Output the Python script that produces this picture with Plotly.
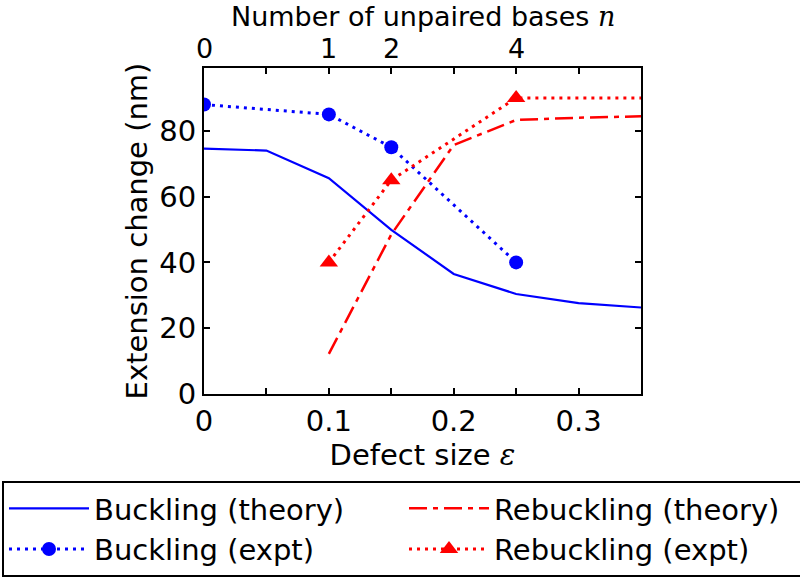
import plotly.graph_objects as go

# Data
eps_theory = [0.0, 0.05, 0.10, 0.15, 0.20, 0.25, 0.30, 0.35]
buck_theory = [74.6, 74.0, 65.6, 49.9, 36.5, 30.4, 27.6, 26.3]

eps_rebuck_theory = [0.10, 0.15, 0.20, 0.25, 0.30, 0.35]
rebuck_theory = [12.2, 48.5, 75.7, 83.3, 84.0, 84.4]

eps_buck_expt = [0.0, 0.10, 0.15, 0.25]
buck_expt = [88.0, 85.0, 75.0, 40.0]

eps_rebuck_expt = [0.10, 0.15, 0.25, 0.40]
rebuck_expt = [40.0, 65.0, 90.0, 90.0]

bottom_tickvals = [0.0, 0.05, 0.10, 0.15, 0.20, 0.25, 0.30, 0.35]
bottom_ticktext = ["0", "", "0.1", "", "0.2", "", "0.3", ""]
top_tickvals = [0.0, 0.10, 0.15, 0.25]
top_ticktext = ["0", "1", "2", "4"]
y_tickvals = [0, 20, 40, 60, 80]

top_title = "Number of unpaired bases <span style=\"font-family:'DejaVu Serif'\"><i>n</i></span>"

FONT = "DejaVu Sans"
BLUE = "#0000ff"
RED = "#ff0000"
FS = 29
FS_TOP = 27

W, H = 800, 578
X0, X1 = 204, 641   # plot area, px
Y0, Y1 = 68, 394

fig = go.Figure()
fig.add_trace(go.Scatter(x=eps_theory, y=buck_theory, mode="lines",
                         name="Buckling (theory)",
                         line=dict(color=BLUE, width=2.2)))
fig.add_trace(go.Scatter(x=eps_rebuck_theory, y=rebuck_theory, mode="lines",
                         name="Rebuckling (theory)",
                         line=dict(color=RED, width=2.5, dash="18px,6px,5px,6px")))
fig.add_trace(go.Scatter(x=eps_buck_expt, y=buck_expt, mode="lines+markers",
                         name="Buckling (expt)",
                         line=dict(color=BLUE, width=3, dash="3px,5px"),
                         marker=dict(symbol="circle", size=14, color=BLUE,
                                     line=dict(width=0))))
fig.add_trace(go.Scatter(x=eps_rebuck_expt, y=rebuck_expt, mode="lines+markers",
                         name="Rebuckling (expt)",
                         line=dict(color=RED, width=3, dash="3px,5px"),
                         marker=dict(symbol="triangle-up", size=16, color=RED,
                                     line=dict(width=0))))
# invisible trace on top axis to activate it
fig.add_trace(go.Scatter(x=[0, 0.35], y=[None, None], xaxis="x2", showlegend=False,
                         hoverinfo="skip"))

xdom = [X0 / W, X1 / W]
ydom = [(H - Y1) / H, (H - Y0) / H]

# top-axis tick labels placed at their data x positions through the x2 axis
annotations = [dict(text=t, xref="x2", yref="paper", x=v, y=(H - 48) / H,
                    xanchor="center", yanchor="middle", showarrow=False,
                    font=dict(size=FS_TOP), borderpad=0)
               for v, t in zip(top_tickvals, top_ticktext)]
annotations.append(dict(text=top_title, xref="x domain", yref="paper", x=0.5, y=1.0,
                        xanchor="center", yanchor="top", showarrow=False,
                        font=dict(size=FS_TOP), borderpad=0))

fig.update_layout(
    width=W, height=H,
    margin=dict(l=0, r=0, t=0, b=0, autoexpand=False),
    paper_bgcolor="white", plot_bgcolor="white",
    font=dict(family=FONT, size=FS, color="black"),
    showlegend=True,
    legend=dict(orientation="h", x=2 / W, xanchor="left", y=(H - 481) / H, yanchor="top",
                bordercolor="black", borderwidth=2, bgcolor="white",
                entrywidth=305, entrywidthmode="pixels",
                font=dict(family=FONT, size=FS), itemwidth=80),
    xaxis=dict(domain=xdom, range=[0, 0.35], tickvals=bottom_tickvals, ticktext=bottom_ticktext,
               ticks="inside", ticklen=6, tickwidth=1.5, tickcolor="black",
               showline=True, linecolor="black", linewidth=2, mirror="ticks",
               showgrid=False, zeroline=False, automargin=False,
               tickfont=dict(size=FS),
               title=dict(text="Defect size <span style=\"font-family:'DejaVu Serif'\"><i>ε</i></span>",
                          font=dict(size=FS), standoff=1)),
    xaxis2=dict(domain=xdom, range=[0, 0.35], overlaying="x", side="top", anchor="y",
                tickvals=top_tickvals, showticklabels=False,
                ticks="inside", ticklen=6, tickwidth=1.5, tickcolor="black",
                showline=False, showgrid=False, zeroline=False, automargin=False),
    yaxis=dict(domain=ydom, range=[0, 99.1], tickvals=y_tickvals,
               ticks="inside", ticklen=6, tickwidth=1.5, tickcolor="black",
               showline=True, linecolor="black", linewidth=2, mirror="ticks",
               showgrid=False, zeroline=False, automargin=False,
               tickfont=dict(size=FS),
               title=dict(text="Extension change (nm)", font=dict(size=FS), standoff=3)),
    annotations=annotations,
)

fig.write_html("out.html", config={"displayModeBar": False},
               post_script="document.body.style.margin='0px';")
